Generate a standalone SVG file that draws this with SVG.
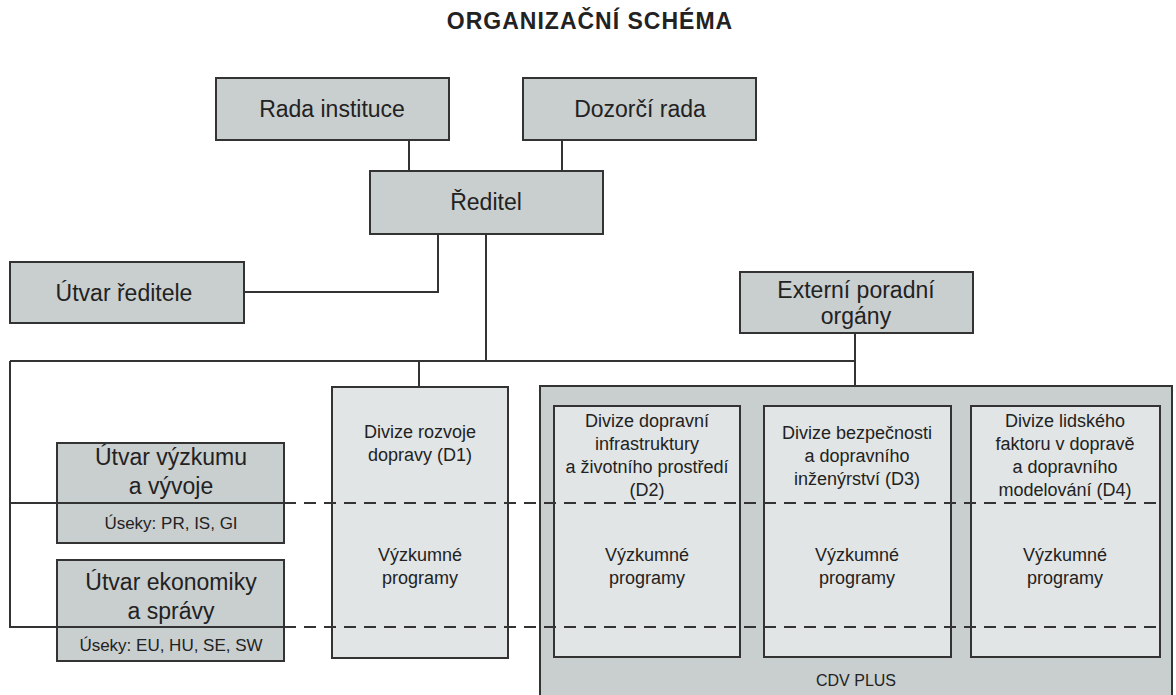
<svg xmlns="http://www.w3.org/2000/svg" width="1176" height="695" viewBox="0 0 1176 695">
<style>
text{font-family:"Liberation Sans",Arial,sans-serif;fill:#222;text-anchor:middle}
.t{font-size:23px}
.m{font-size:18px}
.s{font-size:17px}
.c{font-size:16px}
.title{font-size:23px;font-weight:bold;letter-spacing:1px}
.dk{fill:#c9cecf;stroke:#333;stroke-width:2}
.lt{fill:#e1e5e5;stroke:#333;stroke-width:2}
.ln{fill:none;stroke:#333;stroke-width:2}
.dash{fill:none;stroke:#333;stroke-width:2;stroke-dasharray:12 8}
</style>
<rect width="1176" height="695" fill="#fff"/>
<text class="title" x="590" y="29">ORGANIZAČNÍ SCHÉMA</text>
<g id="rada"><rect class="dk" x="216" y="78" width="233" height="62"/><text class="t" x="332" y="117">Rada instituce</text></g>
<g id="dozorci"><rect class="dk" x="523" y="78" width="233" height="62"/><text class="t" x="640" y="117">Dozorčí rada</text></g>
<g id="reditel"><rect class="dk" x="370" y="171" width="233" height="63"/><text class="t" x="486" y="210">Ředitel</text></g>
<g id="utvar-reditele"><rect class="dk" x="10" y="262" width="234" height="61"/><text class="t" x="124" y="301">Útvar ředitele</text></g>
<g id="externi"><rect class="dk" x="740" y="272" width="233" height="61"/><text class="t" x="856" y="298">Externí poradní</text><text class="t" x="856" y="324">orgány</text></g>
<g id="vyzkum"><rect class="dk" x="57" y="443" width="227" height="100"/><text class="t" x="171" y="465">Útvar výzkumu</text><text class="t" x="171" y="494">a vývoje</text><text class="s" x="171" y="529">Úseky: PR, IS, GI</text></g>
<g id="ekonomika"><rect class="dk" x="57" y="560" width="227" height="101"/><text class="t" x="171" y="590">Útvar ekonomiky</text><text class="t" x="171" y="619">a správy</text><text class="s" x="171" y="651">Úseky: EU, HU, SE, SW</text></g>
<g id="d1"><rect class="lt" x="332" y="387" width="176" height="271"/><text class="m" x="420" y="438">Divize rozvoje</text><text class="m" x="420" y="461">dopravy (D1)</text><text class="m" x="420" y="561">Výzkumné</text><text class="m" x="420" y="584">programy</text></g>
<g id="cdvplus"><rect class="dk" x="540" y="386" width="632" height="320"/><text class="c" x="856" y="686">CDV PLUS</text></g>
<g id="d2"><rect class="lt" x="554" y="406" width="186" height="251"/><text class="m" x="647" y="427">Divize dopravní</text><text class="m" x="647" y="450">infrastruktury</text><text class="m" x="647" y="473">a životního prostředí</text><text class="m" x="647" y="496">(D2)</text><text class="m" x="647" y="561">Výzkumné</text><text class="m" x="647" y="584">programy</text></g>
<g id="d3"><rect class="lt" x="764" y="406" width="187" height="251"/><text class="m" x="857" y="439">Divize bezpečnosti</text><text class="m" x="857" y="462">a dopravního</text><text class="m" x="857" y="485">inženýrství (D3)</text><text class="m" x="857" y="561">Výzkumné</text><text class="m" x="857" y="584">programy</text></g>
<g id="d4"><rect class="lt" x="971" y="406" width="189" height="251"/><text class="m" x="1065" y="427">Divize lidského</text><text class="m" x="1065" y="450">faktoru v dopravě</text><text class="m" x="1065" y="473">a dopravního</text><text class="m" x="1065" y="496">modelování (D4)</text><text class="m" x="1065" y="561">Výzkumné</text><text class="m" x="1065" y="584">programy</text></g>
<g id="connectors">
<path class="ln" d="M409 140V171M562 140V171M438 234V292H244M486 234V361M10 361H855M855 333V386M419 361V387M10 361V627H284M10 503H284"/>
<path class="dash" d="M284 503H1160M284 627H1160"/>
</g>
</svg>
